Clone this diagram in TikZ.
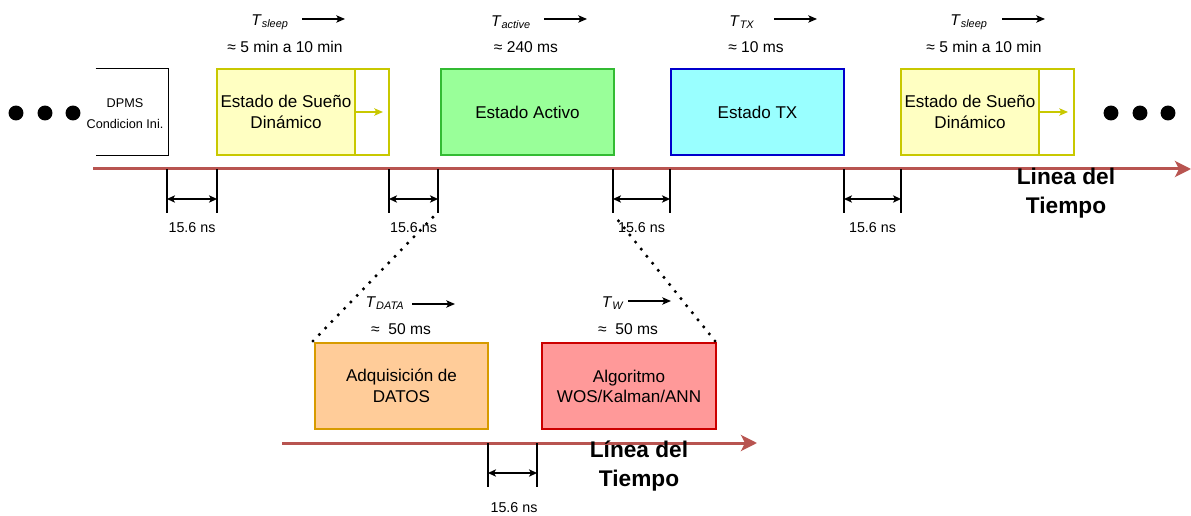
\documentclass[tikz,border=0pt]{standalone}
\usepackage{fontspec}
\setmainfont{Liberation Sans}
\definecolor{sleepfill}{HTML}{FFFFC2}
\definecolor{sleepline}{HTML}{C8C800}
\definecolor{activefill}{HTML}{99FF99}
\definecolor{activeline}{HTML}{33BB33}
\definecolor{txfill}{HTML}{99FFFF}
\definecolor{txline}{HTML}{0000CC}
\definecolor{datafill}{HTML}{FFCC99}
\definecolor{dataline}{HTML}{D79B00}
\definecolor{algfill}{HTML}{FF9999}
\definecolor{algline}{HTML}{CC0000}
\definecolor{tline}{HTML}{B85450}
\usetikzlibrary{arrows.meta, positioning, calc}

\begin{document}
\begin{tikzpicture}[x=0.75pt, y=-0.75pt,
    state/.style={draw, line width=1pt, outer sep=0pt, inner sep=0pt,
      minimum height=64.5pt, align=center,
      font=\fontsize{12.8}{16}\selectfont},
    timeline/.style={draw=tline, line width=2.25pt,
      -{Stealth[length=12pt, width=12pt, inset=3pt]}},
    small/.style={-{Stealth[length=6.5pt, width=5.5pt, inset=1.5pt]}, line width=0.9pt},
    gap/.style={{Stealth[length=6pt, width=5.5pt, inset=1.5pt]}-{Stealth[length=6pt, width=5.5pt, inset=1.5pt]}, line width=0.9pt},
    tlabel/.style={font=\fontsize{11.7}{14}\selectfont},
    nslabel/.style={font=\fontsize{10.7}{13}\selectfont},
    zoomline/.style={line width=2.6pt, dash pattern=on 0pt off 6.8pt, line cap=round}]
  \useasboundingbox (0,0) rectangle (1191,516);

  % dots before and after
  \foreach \x in {16,45,73,1111,1140,1168}
    \fill (\x,113) circle (5.6pt);

  % initial condition
  \node[minimum width=54pt, minimum height=64.5pt, inner sep=0pt] (dpms) at (132,112) {};
  \draw[line width=1pt] (dpms.north west) -- (dpms.north east)
    -- (dpms.south east) -- (dpms.south west);
  \node[align=center, font=\fontsize{9.5}{15.75}\selectfont] (dpmstxt) at (125,114) {DPMS\\Condicion Ini.};

  % states
  \node[state, fill=sleepfill, draw=sleepline, minimum width=103.5pt] (sleepA) at (286,112) {Estado de Sueño\\Dinámico};
  \node[state, fill=white, draw=sleepline, minimum width=25.5pt, anchor=west] (sleepAx) at (sleepA.east) {};
  \draw[sleepline, small, line width=1.1pt] (sleepAx.west) -- ++(28,0);
  \node[state, fill=activefill, draw=activeline, minimum width=129.75pt] (active) at (527.5,112) {Estado Activo};
  \node[state, fill=txfill, draw=txline, minimum width=129.75pt] (tx) at (757.5,112) {Estado TX};
  \node[state, fill=sleepfill, draw=sleepline, minimum width=103.5pt] (sleepB) at (970,112) {Estado de Sueño\\Dinámico};
  \node[state, fill=white, draw=sleepline, minimum width=26.25pt, anchor=west] (sleepBx) at (sleepB.east) {};
  \draw[sleepline, small, line width=1.1pt] (sleepBx.west) -- ++(29,0);

  % durations
  \foreach \n/\lab/\tx/\ax/\val/\vx in
    {ts1/sleep/270/302/{5 min a 10 min}/285, ta/active/511/544/{240 ms}/526,
     ttx/TX/742/774/{10 ms}/756, ts2/sleep/969/1002/{5 min a 10 min}/984} {
    \node[tlabel] (\n) at (\tx,22) {\textit{T}\textsubscript{\textit{\lab}}};
    \draw[small] (\ax,19) -- ++(43,0);
    \node[tlabel] (\n v) at (\vx,47) {≈ \val};
  }

  % main timeline
  \draw[timeline] (93,169) -- (1191,169);
  \foreach \a/\b in {167/217, 389/438, 613/670, 844/901} {
    \draw[line width=1pt] (\a,169) -- (\a,213);
    \draw[line width=1pt] (\b,169) -- (\b,213);
    \draw[gap] (\a,199) -- (\b,199);
    \node[nslabel] at ({(\a+\b)/2},228) {15.6 ns};
  }
  \coordinate (zoomL) at (437,213);
  \coordinate (zoomR) at (613,214);
  \node[font=\fontsize{17}{21.75}\selectfont\bfseries, align=center] (tiempoA) at (1066,193) {Linea del\\Tiempo};

  % zoom of active state
  \node[state, fill=datafill, draw=dataline, minimum width=129.75pt] (data) at (401.5,386) {Adquisición de\\DATOS};
  \node[state, fill=algfill, draw=algline, minimum width=130.5pt,
    font=\fontsize{12.8}{15}\selectfont] (alg) at (629,386) {Algoritmo\\WOS/Kalman/ANN};
  \draw[zoomline] (data.north west) ++(-2,-2) -- (zoomL);
  \draw[zoomline] (alg.north east) ++(-1,-2) -- (zoomR);

  \node[tlabel] (tdata) at (385,303) {\textit{T}\textsubscript{\textit{DATA}}};
  \draw[small] (412,304) -- ++(43,0);
  \node[tlabel] (tdatav) at (401,329) {≈\ \ 50 ms};
  \node[tlabel] (tw) at (613,303) {\textit{T}\textsubscript{\textit{W}}};
  \draw[small] (628,301) -- ++(43,0);
  \node[tlabel] (twv) at (628,329) {≈\ \ 50 ms};

  \draw[timeline] (282,443) -- (757,443);
  \draw[line width=1pt] (488,443) -- (488,487);
  \draw[line width=1pt] (537,443) -- (537,487);
  \draw[gap] (488,473) -- (537,473);
  \node[nslabel] at (514,508) {15.6 ns};
  \node[font=\fontsize{17}{21.75}\selectfont\bfseries, align=center] (tiempoB) at (639,466) {Línea del\\Tiempo};
\end{tikzpicture}
\end{document}
